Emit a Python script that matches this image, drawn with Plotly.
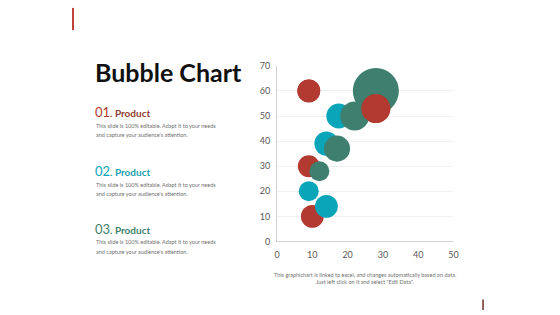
import plotly.graph_objects as go

# ---- data ----
red_x = [9, 28, 9, 10]
red_y = [60, 53, 30, 10]
red_s = [26, 42, 24, 26]

teal_x = [17.5, 14, 9, 14]
teal_y = [50, 39, 20, 14]
teal_s = [31, 29, 20, 26]

green_x = [28, 22, 17, 12]
green_y = [60, 50, 37, 28]
green_s = [106, 42, 34, 20]

x_ticks = [0, 10, 20, 30, 40, 50]
y_ticks = [0, 10, 20, 30, 40, 50, 60, 70]

RED = "#B23A30"
TEAL = "#0AA5B8"
GREEN = "#3E7F6F"

fig = go.Figure()

def add(xs, ys, ss, color):
    fig.add_trace(go.Scatter(
        x=xs, y=ys, mode="markers",
        marker=dict(size=ss, sizemode="area", sizeref=0.1, color=color,
                    opacity=1, line=dict(width=0)),
        hoverinfo="skip", showlegend=False, cliponaxis=False))

add(red_x, red_y, red_s, RED)
add(teal_x, teal_y, teal_s, TEAL)
add(green_x, green_y, green_s, GREEN)
# red bubbles in the upper band sit on top of the green ones
sel = [i for i in range(len(red_y)) if red_y[i] > 50]
add([red_x[i] for i in sel], [red_y[i] for i in sel], [red_s[i] for i in sel], RED)

fig.update_layout(
    width=560, height=315,
    margin=dict(l=0, r=0, t=0, b=0),
    paper_bgcolor="white", plot_bgcolor="white",
    font=dict(family="Lato, sans-serif", color="#595959"),
    xaxis=dict(domain=[0.4964, 0.8161], range=[0, 50], tickvals=x_ticks,
               showgrid=False, zeroline=False, showline=True,
               linecolor="#d0d0d0", linewidth=1,
               tickfont=dict(size=9, color="#595959"),
               ticks="outside", ticklen=5, tickcolor="rgba(0,0,0,0)"),
    yaxis=dict(domain=[0.2254, 0.8032], range=[0, 70], tickvals=y_ticks,
               showgrid=True, gridcolor="#f0f0f0", gridwidth=1,
               zeroline=False, showline=True, linecolor="#d0d0d0",
               linewidth=1, tickfont=dict(size=9, color="#595959"),
               ticks="outside", ticklen=4, tickcolor="rgba(0,0,0,0)"),
)

ann = []
def txt(x, y, t, size, color, anchor="left", family="Lato, sans-serif"):
    ann.append(dict(x=x / 560, y=1 - y / 315, xref="paper", yref="paper",
                    text=t, showarrow=False, xanchor=anchor, yanchor="middle",
                    font=dict(size=size, color=color, family=family),
                    align="center" if anchor == "center" else "left"))

txt(91, 68, "<b>Bubble Chart</b>", 25, "#111111")

desc1 = "This slide is 100% editable. Adapt it to your needs"
desc2 = "and capture your audience's attention."
items = [("01", RED, "#8E3B33", 110), ("02", TEAL, "#1A9FB0", 171),
         ("03", GREEN, "#3E7F6F", 231)]
for num, c1, c2, y in items:
    txt(91, y, f"<span style='font-size:13px;color:{c1}'>{num}</span>"
        f"<span style='color:{c2}'><b>. Product</b></span>", 10, c2)
    txt(92, y + 14, desc1, 5.5, "#707070")
    txt(92, y + 24, desc2, 5.5, "#707070")

txt(367, 279, "This graphichart is linked to excel, and changes automatically based on data.",
    5.5, "#707070", anchor="center")
txt(367, 286, 'Just left click on it and select "Edit Data".', 5.5, "#707070",
    anchor="center")

fig.update_layout(annotations=ann)

fig.add_shape(type="line", xref="paper", yref="paper",
              x0=71 / 560, x1=71 / 560, y0=1 - 2 / 315, y1=1 - 25 / 315,
              line=dict(color="#C0433A", width=2))
fig.add_shape(type="line", xref="paper", yref="paper",
              x0=487 / 560, x1=487 / 560, y0=1 - 304 / 315, y1=1 - 315 / 315,
              line=dict(color="#6B2E2A", width=1.5))

fig.write_html("out.html")
